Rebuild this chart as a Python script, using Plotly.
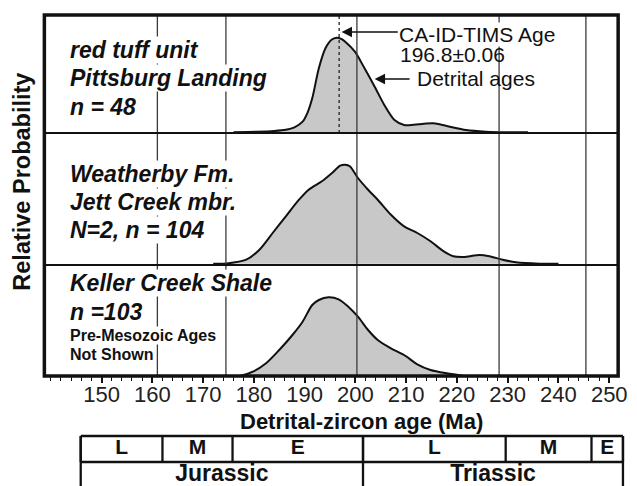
import plotly.graph_objects as go

W, H = 637, 486
FONT = "Liberation Sans, Arial, Helvetica, sans-serif"

# ---------------- data ----------------
ages_top = [176, 180.5, 184, 186.3, 188, 189.6, 190.6, 191.5, 192.8, 194.1, 195.3, 196.3,
            197.2, 198.0, 199.9, 201.8, 203.8, 205.7, 207.7, 209.6, 211.5, 213.5, 215.4,
            218.0, 221.8, 225.7, 229.6, 234]
prob_top = [0, 0.5, 1.3, 2.5, 5, 10.6, 20, 34, 64, 84, 92.5, 94.6,
            93.5, 90.6, 80.6, 64, 45.6, 27.3, 12.3, 7.3, 7.6, 8.5, 9,
            6.3, 2.3, 0.6, 0, 0]

ages_mid = [172, 174.7, 178.5, 181.1, 183.7, 186.3, 188.9, 190.8, 193.4, 195.4, 197.0,
            198.0, 198.9, 200.5, 202.5, 204.4, 207.0, 209.6, 212.2, 214.8, 217.4, 219.3,
            221.3, 224.5, 226.4, 229.0, 231.6, 236.2, 240]
prob_mid = [0, 0.3, 4, 14, 30.7, 47.4, 64, 74, 82.4, 90.7, 98,
            99, 97.4, 85.7, 74, 64, 49, 37.4, 30.7, 22.4, 12.4, 7.4,
            6.7, 8.7, 7.4, 4, 1.4, 0, 0]

ages_bot = [175, 177.2, 179.8, 182.4, 185.0, 187.6, 189.6, 191.5, 192.8, 194.7, 196.7,
            198.6, 200.5, 202.5, 204.4, 207.0, 209.6, 212.2, 214.8, 218.0, 220.3, 221.3, 224]
prob_bot = [0, 0, 4.3, 12.7, 26, 41, 54.3, 71, 76, 78.7, 76.7,
            69.3, 59.3, 46, 36, 27.7, 21, 11.7, 6, 2.7, 1, 0, 0]

boundary_ages = [161.0, 174.5, 200.3, 228.3, 245.4]
tims_age = 196.8
x_tick_vals = [150, 160, 170, 180, 190, 200, 210, 220, 230, 240, 250]

stage_labels = ["L", "M", "E", "L", "M", "E"]
stage_bounds = [145.9, 162.0, 175.8, 201.5, 229.6, 246.5, 252.7]
period_labels = ["Jurassic", "Triassic"]
period_bounds = [145.9, 201.5, 252.7]

panel_top_labels = ["red tuff unit", "Pittsburg Landing", "n = 48"]
panel_mid_labels = ["Weatherby Fm.", "Jett Creek mbr.", "N=2, n = 104"]
panel_bot_labels = ["Keller Creek Shale", "n =103"]
panel_bot_notes = ["Pre-Mesozoic Ages", "Not Shown"]

# ---------------- layout helpers ----------------
def fy(px):
    return (H - px) / H


def fx(px):
    return px / W


X_RANGE = [138.74, 251.75]
XD = [fx(45), fx(627)]
scale = (X_RANGE[1] - X_RANGE[0]) / (XD[1] - XD[0])
X2_RANGE = [X_RANGE[0] - XD[0] * scale, X_RANGE[1] + (1 - XD[1]) * scale]


def ma(px):
    # pixel -> age on the shared age scale
    return X_RANGE[0] + (fx(px) - XD[0]) * scale


fig = go.Figure()
for ages, probs, yid in [(ages_top, prob_top, "y3"), (ages_mid, prob_mid, "y2"), (ages_bot, prob_bot, "y")]:
    fig.add_trace(go.Scatter(
        x=ages, y=probs, mode="lines", xaxis="x", yaxis=yid,
        line=dict(color="#111111", width=2, shape="spline", smoothing=0.8),
        fill="tozeroy", fillcolor="#c8c8c8", hoverinfo="skip", showlegend=False))

# time-scale table text
stage_mid = [(stage_bounds[i] + stage_bounds[i + 1]) / 2 for i in range(len(stage_labels))]
period_mid = [(period_bounds[i] + period_bounds[i + 1]) / 2 for i in range(len(period_labels))]
fig.add_trace(go.Scatter(
    x=stage_mid + period_mid,
    y=[0.74] * len(stage_labels) + [0.22] * len(period_labels),
    text=stage_labels + period_labels, mode="text", xaxis="x2", yaxis="y4",
    textfont=dict(family=FONT, size=[21] * len(stage_labels) + [23] * len(period_labels),
                  color="#111111", weight="bold"),
    hoverinfo="skip", showlegend=False, cliponaxis=False))

shapes = []
# period boundary lines across all panels
for a in boundary_ages:
    shapes.append(dict(type="line", xref="x", yref="paper", x0=a, x1=a, y0=fy(376), y1=fy(15),
                       line=dict(color="#3a3a3a", width=1.3)))
# CA-ID-TIMS dotted line
shapes.append(dict(type="line", xref="x", yref="paper", x0=tims_age, x1=tims_age, y0=fy(133), y1=fy(15),
                   line=dict(color="#222222", width=1.3, dash="dot")))
# panel dividers
for p in [133, 265]:
    shapes.append(dict(type="line", xref="paper", yref="paper", x0=XD[0], x1=XD[1], y0=fy(p), y1=fy(p),
                       line=dict(color="#111111", width=2.2)))
# outer frame
shapes.append(dict(type="rect", xref="paper", yref="paper", x0=XD[0], x1=XD[1], y0=fy(376), y1=fy(15),
                   line=dict(color="#111111", width=3.5)))
# table lines
for p in [436, 462]:
    shapes.append(dict(type="line", xref="x2", yref="paper", x0=stage_bounds[0], x1=stage_bounds[-1],
                       y0=fy(p), y1=fy(p), line=dict(color="#111111", width=2.3)))
for b in stage_bounds:
    shapes.append(dict(type="line", xref="x2", yref="paper", x0=b, x1=b, y0=fy(462), y1=fy(436),
                       line=dict(color="#111111", width=2.3)))
for b in period_bounds:
    shapes.append(dict(type="line", xref="x2", yref="paper", x0=b, x1=b, y0=-0.02, y1=fy(436),
                       line=dict(color="#111111", width=2.3)))

ann = []


def label(text, ypx, size, italic=True):
    ann.append(dict(text=text, xref="paper", yref="paper", x=fx(70), y=fy(ypx), xanchor="left",
                    yanchor="middle", showarrow=False, bgcolor="white", borderpad=0,
                    font=dict(family=FONT, size=size, color="#111111", weight="bold",
                              style="italic" if italic else "normal")))


for t, yp in zip(panel_top_labels, [50, 78, 107]):
    label(t, yp, 23)
for t, yp in zip(panel_mid_labels, [174, 202, 230]):
    label(t, yp, 23)
for t, yp in zip(panel_bot_labels, [283, 312]):
    label(t, yp, 23)
for t, yp in zip(panel_bot_notes, [335, 354]):
    label(t, yp, 16, italic=False)

ann.append(dict(text="Relative Probability", xref="paper", yref="paper", x=fx(22), y=fy(182),
                textangle=-90, showarrow=False, xanchor="center", yanchor="middle",
                font=dict(family=FONT, size=23.5, color="#111111", weight="bold")))
ann.append(dict(text="Detrital-zircon age (Ma)", xref="paper", yref="paper", x=fx(366.5), y=fy(421),
                showarrow=False, xanchor="center", yanchor="middle",
                font=dict(family=FONT, size=22, color="#111111", weight="bold")))

ann.append(dict(text="CA-ID-TIMS Age", xref="x", yref="paper", x=ma(404), y=fy(34), xanchor="left",
                yanchor="middle", showarrow=False, bgcolor="white", borderpad=0,
                font=dict(family=FONT, size=21, color="#111111")))
ann.append(dict(text="196.8±0.06", xref="x", yref="paper", x=ma(404), y=fy(54), xanchor="left",
                yanchor="middle", showarrow=False,
                font=dict(family=FONT, size=21, color="#111111")))
ann.append(dict(text="Detrital ages", xref="x", yref="paper", x=ma(421), y=fy(79), xanchor="left",
                yanchor="middle", showarrow=False,
                font=dict(family=FONT, size=21, color="#111111")))


def y3(px):
    return 132.3 - px


ann.append(dict(text="", xref="x", yref="y3", x=ma(346.5), y=y3(32), axref="x", ayref="y3",
                ax=ma(405), ay=y3(32), showarrow=True, arrowhead=2, arrowsize=1.3, arrowwidth=1.6,
                arrowcolor="#111111", standoff=0))
ann.append(dict(text="", xref="x", yref="y3", x=ma(380), y=y3(79), axref="x", ayref="y3",
                ax=ma(417), ay=y3(79), showarrow=True, arrowhead=2, arrowsize=1.3, arrowwidth=1.6,
                arrowcolor="#111111", standoff=0))

fig.update_layout(
    width=W, height=H, margin=dict(l=0, r=0, t=0, b=0, pad=0),
    paper_bgcolor="white", plot_bgcolor="white", showlegend=False,
    xaxis=dict(domain=XD, range=X_RANGE, anchor="y", tickvals=x_tick_vals, ticks="outside",
               ticklen=6, tickwidth=1.5, tickcolor="#111111", ticklabelstandoff=-7,
               minor=dict(dtick=2, tick0=140, ticks="outside", ticklen=4, tickwidth=1.1,
                          tickcolor="#111111", showgrid=False),
               showgrid=False, zeroline=False, showline=False,
               tickfont=dict(family=FONT, size=22, color="#222222"), fixedrange=True),
    yaxis=dict(domain=[fy(376), fy(265)], range=[0, 111], visible=False, fixedrange=True),
    yaxis2=dict(domain=[fy(265), fy(133)], range=[-1.3, 130.7], visible=False, fixedrange=True),
    yaxis3=dict(domain=[fy(133), fy(15)], range=[-0.7, 117.3], visible=False, fixedrange=True),
    xaxis2=dict(domain=[0, 1], range=X2_RANGE, anchor="y4", visible=False, fixedrange=True),
    yaxis4=dict(domain=[0, fy(436)], range=[0, 1], anchor="x2", visible=False, fixedrange=True),
    shapes=shapes, annotations=ann,
)

fig.write_html("out.html")
